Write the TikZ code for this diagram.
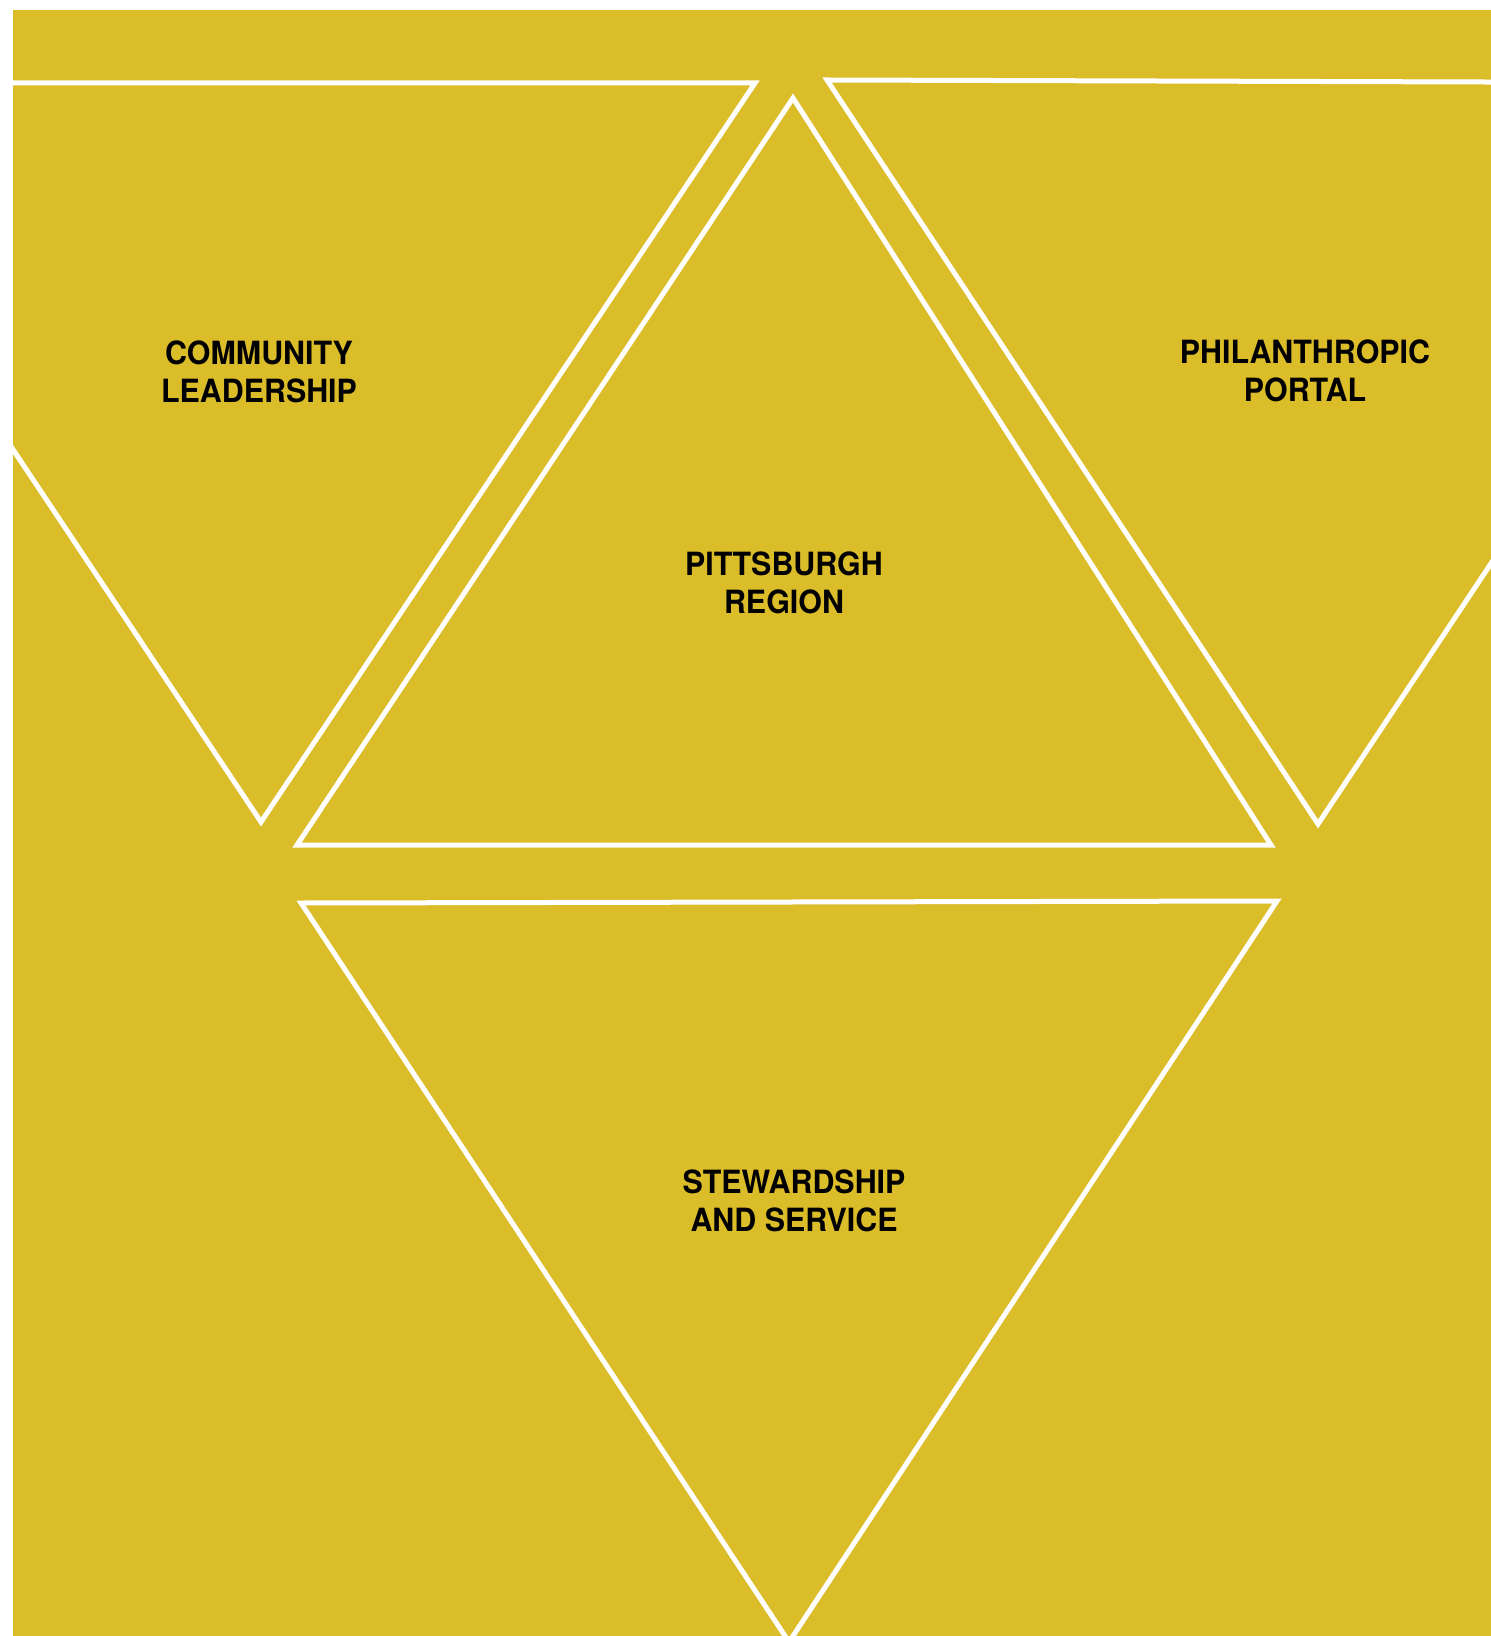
\documentclass[tikz,border=0pt]{standalone}
\usepackage{fontspec}
\setmainfont{TeX Gyre Heros}[FakeStretch=0.95]
\usepackage{xcolor}
\definecolor{mygold}{RGB}{219,188,41}

\begin{document}
\begin{tikzpicture}[x=0.5pt,y=-0.5pt]
\tikzset{
 tri/.style={draw=white, line width=2.5pt, line join=miter},
 tagtext/.style={font=\bfseries\fontsize{16}{19}\selectfont, align=center, text=black, inner sep=0pt}
}
\useasboundingbox (0,0) rectangle (1491,1636);
\fill[mygold] (13,10) rectangle (1491,1636);

 % corners of the four triangles
 \coordinate (L1) at (-231,83);
 \coordinate (L2) at (755,83);
 \coordinate (L3) at (261,822);

 \coordinate (C1) at (793,98);
 \coordinate (C2) at (1271,845);
 \coordinate (C3) at (297,845);

 \coordinate (R1) at (827,80);
 \coordinate (R2) at (1810,83);
 \coordinate (R3) at (1318,824);

 \coordinate (S1) at (301,903);
 \coordinate (S2) at (1277,901);
 \coordinate (S3) at (789,1642);

\begin{scope}
 \clip (13,10) rectangle (1491,1636);
 \draw[tri] (L1) -- (L2) -- (L3) -- cycle;
 \draw[tri] (C1) -- (C2) -- (C3) -- cycle;
 \draw[tri] (R1) -- (R2) -- (R3) -- cycle;
 \draw[tri] (S1) -- (S2) -- (S3) -- cycle;
\end{scope}

 \node[tagtext] (lead) at (259,372) {COMMUNITY\\LEADERSHIP};
 \node[tagtext] (region) at (784,583) {PITTSBURGH\\REGION};
 \node[tagtext] (portal) at (1305,371) {PHILANTHROPIC\\PORTAL};
 \node[tagtext] (service) at (794,1201) {STEWARDSHIP\\AND SERVICE};

\end{tikzpicture}
\end{document}
